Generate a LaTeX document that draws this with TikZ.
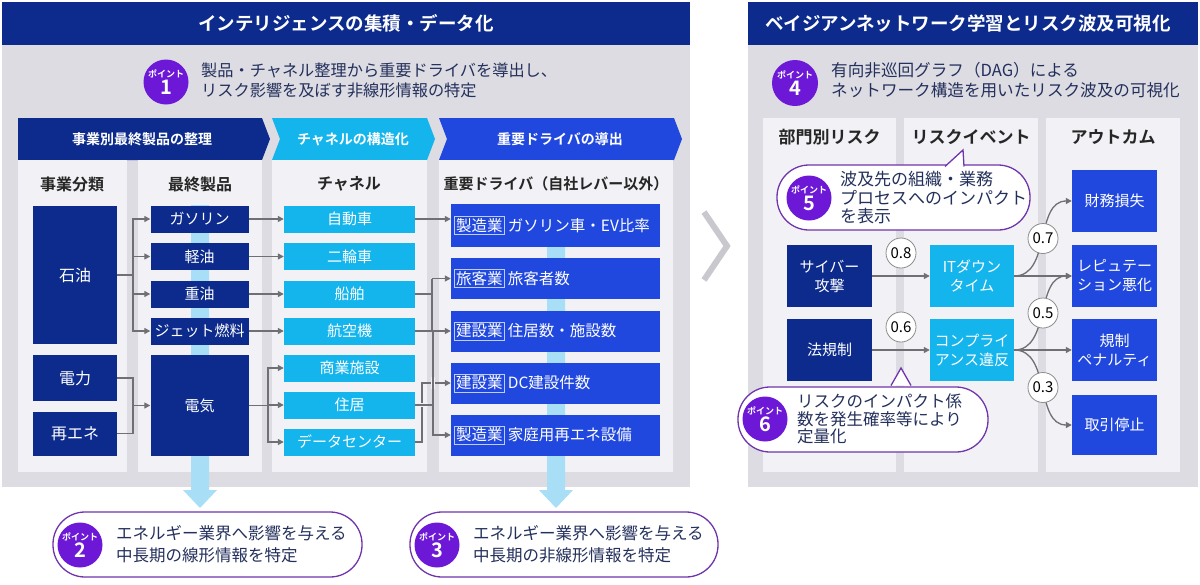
\documentclass[tikz,border=0pt]{standalone}
\usepackage{fontspec}
\setmainfont{Noto Sans CJK JP}[BoldFont={Noto Sans CJK JP Bold}]
\usepackage{xcolor}
\usepackage{tikz}
\usetikzlibrary{arrows.meta, calc}

\definecolor{cNavy}{RGB}{12,43,140}
\definecolor{cCyan}{RGB}{20,180,236}
\definecolor{cRoyal}{RGB}{33,72,222}
\definecolor{cPanel}{RGB}{220,220,226}
\definecolor{cCol}{RGB}{242,242,246}
\definecolor{cLine}{RGB}{112,112,116}
\definecolor{cBand}{RGB}{168,222,246}
\definecolor{cPurple}{RGB}{108,24,214}
\definecolor{cPurpleLine}{RGB}{112,52,172}
\definecolor{cPointText}{RGB}{36,48,92}
\definecolor{cChev}{RGB}{200,200,206}
\definecolor{cTag}{RGB}{190,205,250}

\newcommand{\fsz}[2]{\fontsize{#1}{#2}\selectfont}
\newcommand{\pointmark}[1]{{\fsz{9}{10}\bfseries ポイント}\\[1pt]{\fsz{20}{23}\bfseries #1}}
\newcommand{\tagbox}[1]{{\setlength{\fboxsep}{1.5pt}\setlength{\fboxrule}{0.7pt}\fcolorbox{cTag}{cRoyal}{#1}}\hspace{3pt}}

\begin{document}
\begin{tikzpicture}[
  x=1pt, y=-1pt,
  titletext/.style={text=white, font=\bfseries\fsz{18.5}{22}, inner sep=0pt},
  pointtext/.style={text=cPointText, align=left, inner sep=0pt},
  chevtext/.style={text=white, font=\bfseries\fsz{14}{16}, inner sep=0pt},
  colhead/.style={text=black!85, font=\bfseries\fsz{16}{18}, inner sep=0pt},
  box/.style={inner sep=0pt, text=white, align=center, font=\fsz{15}{19}},
  navybox/.style={box, fill=cNavy},
  cyanbox/.style={box, fill=cCyan},
  bluebox/.style={box, fill=cRoyal},
  prodbox/.style={navybox, minimum width=98pt, minimum height=27pt},
  chanbox/.style={cyanbox, minimum width=131pt, minimum height=27pt},
  drvbox/.style={bluebox, text width=203pt, inner xsep=3pt, align=left,
                 font=\fsz{15.5}{19}, minimum height=41pt},
  riskbox/.style={minimum width=85pt, minimum height=62pt},
  badge/.style={circle, fill=cPurple, text=white, align=center,
                minimum size=45pt, inner sep=0pt},
  bubble/.style={draw=cPurpleLine, line width=1.3pt, fill=white,
                 rounded corners=32pt, minimum height=65pt},
  link/.style={draw=cLine, line width=1.3pt},
  conn/.style={link, -{Triangle[length=6pt,width=6pt]}},
  halo/.style={draw=cCol, line width=4.5pt},
  weight/.style={circle, draw=black!45, line width=0.8pt, fill=white,
                 minimum size=30pt, inner sep=0pt, font=\fsz{15}{15}},
]
  \useasboundingbox (0,0) rectangle (1200,584);
  \fill[white] (0,0) rectangle (1200,584);

  % Left panel
  \fill[cPanel] (2,2) rectangle (690,487);
  \fill[cNavy] (2,2) rectangle (690,45);
  \node[titletext] (lefttitle) at (346,23) {インテリジェンスの集積・データ化};

  % Point 1
  \node[badge] (p1) at (166,82) {\pointmark{1}};
  \node[pointtext, anchor=west, font=\fsz{16.2}{20}] (p1text) at (201,80)
    {製品・チャネル整理から重要ドライバを導出し、\\リスク影響を及ぼす非線形情報の特定};

  % Section chevrons
  \fill[cNavy] (18,118) -- (262,118) -- (270,139) -- (262,160) -- (18,160) -- cycle;
  \node[chevtext] (sec1) at (142,139) {事業別最終製品の整理};
  \fill[cCyan] (272,118) -- (427,118) -- (435,139) -- (427,160) -- (272,160)
    -- (280,139) -- cycle;
  \node[chevtext] (sec2) at (353,139) {チャネルの構造化};
  \fill[cRoyal] (439,118) -- (674,118) -- (682,139) -- (674,160) -- (439,160)
    -- (447,139) -- cycle;
  \node[chevtext] (sec3) at (560,139) {重要ドライバの導出};

  % Columns
  \fill[cCol] (18,160) rectangle (127,472);
  \fill[cCol] (138,160) rectangle (262,472);
  \fill[cCol] (272,160) rectangle (427,472);
  \fill[cCol] (439,160) rectangle (673,472);
  \node[colhead] (h1) at (72,184) {事業分類};
  \node[colhead] (h2) at (200,184) {最終製品};
  \node[colhead] (h3) at (349,184) {チャネル};
  \node[colhead, font=\bfseries\fsz{15}{18}] (h4) at (556,184)
    {重要ドライバ（自社レバー以外）};

  % Downward bands
  \fill[cBand] (191,205) -- (209,205) -- (209,490) -- (217,490) -- (200,508)
    -- (183,490) -- (191,490) -- cycle;
  \fill[cBand] (547,205) -- (565,205) -- (565,490) -- (573,490) -- (556,508)
    -- (539,490) -- (547,490) -- cycle;

  % Business categories
  \node[navybox, font=\fsz{16}{19}, minimum width=84pt, minimum height=138pt]
    (sekiyu) at (75,275) {石油};
  \node[navybox, font=\fsz{16}{19}, minimum width=84pt, minimum height=46pt]
    (denryoku) at (75,378) {電力};
  \node[navybox, font=\fsz{16}{19}, minimum width=84pt, minimum height=44pt]
    (saiene) at (75,433.5) {再エネ};

  % End products
  \node[prodbox] (gasoline) at (199.5,219) {ガソリン};
  \node[prodbox] (keiyu) at (199.5,256.5) {軽油};
  \node[prodbox] (juyu) at (199.5,294) {重油};
  \node[prodbox] (jet) at (199.5,331) {ジェット燃料};
  \node[prodbox, minimum height=101pt] (denki) at (199.5,405.5) {電気};

  % Channels
  \node[chanbox] (jidosha) at (349.5,219) {自動車};
  \node[chanbox] (nirin) at (349.5,256.5) {二輪車};
  \node[chanbox] (senpaku) at (349.5,294) {船舶};
  \node[chanbox] (kokuki) at (349.5,331) {航空機};
  \node[chanbox] (shogyo) at (349.5,368) {商業施設};
  \node[chanbox] (jukyo) at (349.5,405) {住居};
  \node[chanbox] (dc) at (349.5,442) {データセンター};

  % Key drivers
  \node[drvbox, minimum height=43pt] (drv1) at (555.5,225.5)
    {\tagbox{製造業}ガソリン車・EV比率};
  \node[drvbox] (drv2) at (555.5,278.5) {\tagbox{旅客業}旅客者数};
  \node[drvbox] (drv3) at (555.5,331) {\tagbox{建設業}住居数・施設数};
  \node[drvbox] (drv4) at (555.5,383) {\tagbox{建設業}DC建設件数};
  \node[drvbox] (drv5) at (555.5,435) {\tagbox{製造業}家庭用再エネ設備};

  % Connectors: categories to products
  \coordinate (j1) at (133,275);
  \draw[link] (sekiyu.east) -- (j1);
  \foreach \n in {gasoline,keiyu,juyu,jet}
    \draw[conn] (j1) |- (\n.west);
  \coordinate (j2) at (133,405.5);
  \draw[link] (denryoku.east) -| (j2);
  \draw[link] (saiene.east) -| (j2);
  \draw[conn] (j2) -- (denki.west);

  % Connectors: products to channels
  \draw[conn] (gasoline) -- (jidosha);
  \draw[conn] (keiyu) -- (nirin);
  \draw[conn] (juyu) -- (senpaku);
  \draw[conn] (jet) -- (kokuki);
  \coordinate (j3) at (268,405.5);
  \draw[link] (denki.east) -- (j3);
  \foreach \n in {shogyo,jukyo,dc}
    \draw[conn] (j3) |- (\n.west);

  % Connectors: channels to drivers
  \draw[conn] (jidosha.east) -- (jidosha.east -| drv1.west);
  \coordinate (j4) at (432,278.5);
  \draw[link] (senpaku.east) -| (j4);
  \draw[link] (kokuki.east) -| (j4);
  \draw[conn] (j4) -- (drv2.west);
  \coordinate (j6) at (422,383);
  \draw[conn] (dc.east) -| (j6) -- (drv4.west);
  \coordinate (j5) at (433,405);
  \draw[halo] ($(j5 |- j6)+(0,-6)$) -- ($(j5 |- j6)+(0,6)$);
  \draw[halo] ($(j6 |- j5)+(-6,0)$) -- ($(j6 |- j5)+(6,0)$);
  \draw[link] (jukyo.east) -- (j5);
  \draw[conn] (j5) |- (drv3.west);
  \draw[conn] (j5) |- (drv5.west);

  % Points 2 and 3
  \node[bubble, minimum width=309pt] (p2box) at (207.5,544.5) {};
  \node[badge] (p2) at (80,545) {\pointmark{2}};
  \node[pointtext, anchor=west, font=\fsz{16.5}{22}] (p2text) at (116,544)
    {エネルギー業界へ影響を与える\\中長期の線形情報を特定};
  \node[bubble, minimum width=308pt] (p3box) at (564,544.5) {};
  \node[badge] (p3) at (437,545) {\pointmark{3}};
  \node[pointtext, anchor=west, font=\fsz{16.5}{22}] (p3text) at (473,544)
    {エネルギー業界へ影響を与える\\中長期の非線形情報を特定};

  % Chevron between panels
  \draw[cChev, line width=6pt, miter limit=4] (704,212) -- (727,246) -- (704,280);

  % Right panel
  \fill[cPanel] (748,2) rectangle (1198,487);
  \fill[cNavy] (748,2) rectangle (1198,45);
  \node[titletext] (righttitle) at (968,23) {ベイジアンネットワーク学習とリスク波及可視化};

  % Point 4
  \node[badge, minimum size=46pt] (p4) at (795,83) {\pointmark{4}};
  \node[pointtext, anchor=west, font=\fsz{16.6}{20}] (p4text) at (831,80)
    {有向非巡回グラフ（DAG）による\\ネットワーク構造を用いたリスク波及の可視化};

  % Columns
  \fill[cCol] (763,118) rectangle (896,472);
  \fill[cCol] (904,118) rectangle (1038,472);
  \fill[cCol] (1046,118) rectangle (1180,472);
  \node[colhead, font=\bfseries\fsz{17}{18}] (r1) at (829.5,137) {部門別リスク};
  \node[colhead, font=\bfseries\fsz{17}{18}] (r2) at (971,137) {リスクイベント};
  \node[colhead, font=\bfseries\fsz{17}{18}] (r3) at (1113,137) {アウトカム};

  % Risk nodes
  \node[navybox, riskbox] (cyber) at (829.5,276) {サイバー\\攻撃};
  \node[navybox, riskbox] (houkisei) at (829.5,350) {法規制};
  \node[cyanbox, riskbox, minimum width=84pt] (itdown) at (972,276) {ITダウン\\タイム};
  \node[cyanbox, riskbox, minimum width=84pt] (comply) at (972,350) {コンプライ\\アンス違反};
  \node[bluebox, riskbox] (zaimu) at (1114.5,201) {財務損失};
  \node[bluebox, riskbox] (reput) at (1114.5,276) {レピュテー\\ション悪化};
  \node[bluebox, riskbox] (penalty) at (1114.5,350) {規制\\ペナルティ};
  \node[bluebox, riskbox, minimum height=60pt] (torihiki) at (1114.5,425) {取引停止};

  % Weighted edges
  \draw[conn] (cyber) -- (itdown) node[weight, midway, yshift=23pt] {0.8};
  \draw[conn] (houkisei) -- (comply) node[weight, midway, yshift=23pt] {0.6};
  \draw[conn] (itdown.east) to[out=0, in=180] node[weight, midway] {0.7} (zaimu.west);
  \draw[conn] (itdown.east) -- (reput.west);
  \draw[conn] (comply.east) to[out=0, in=180] node[weight, midway] {0.5} (reput.west);
  \draw[conn] (comply.east) -- (penalty.west);
  \draw[conn] (comply.east) to[out=0, in=180] node[weight, midway] {0.3} (torihiki.west);

  % Point 5 callout
  \node[bubble, minimum width=253pt] (p5box) at (903.5,197.5) {};
  \filldraw[fill=white, draw=cPurpleLine, line width=1.3pt]
    (945,166.5) -- (963,150) -- (964,166.5);
  \node[badge] (p5) at (809,198) {\pointmark{5}};
  \node[pointtext, anchor=west, font=\fsz{17}{18.5}] (p5text) at (840,198)
    {波及先の組織・業務\\プロセスへのインパクト\\を表示};

  % Point 6 callout
  \node[bubble, minimum width=250pt] (p6box) at (863,419.5) {};
  \filldraw[fill=white, draw=cPurpleLine, line width=1.3pt]
    (891,385.5) -- (901,368) -- (911,385.5);
  \node[badge] (p6) at (765,419) {\pointmark{6}};
  \node[pointtext, anchor=west, font=\fsz{16.5}{17.5}] (p6text) at (797,419)
    {リスクのインパクト係\\数を発生確率等により\\定量化};

\end{tikzpicture}
\end{document}
